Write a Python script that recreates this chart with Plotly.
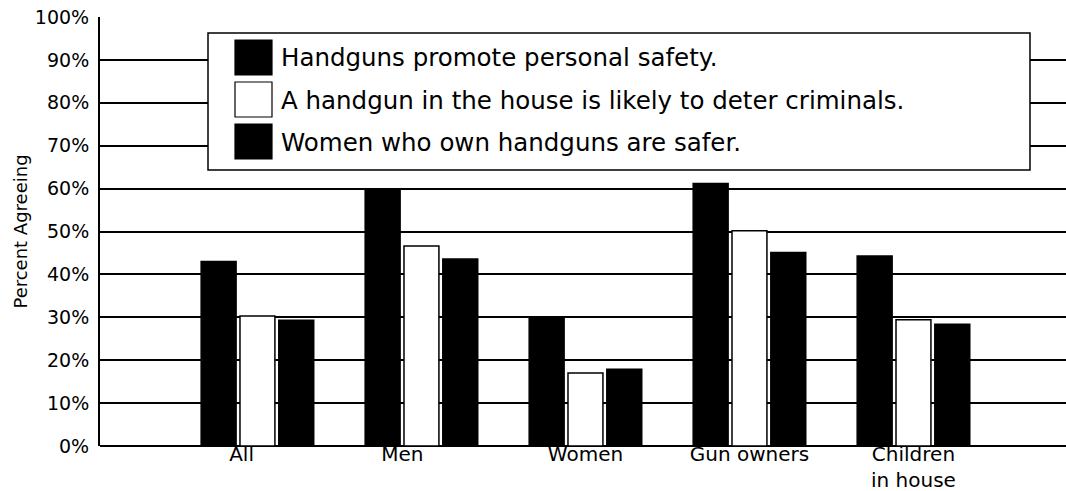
import plotly.graph_objects as go

categories = ['All', 'Men', 'Women', 'Gun owners', 'Children<br>in house']
series_names = [
    'Handguns promote personal safety.',
    'A handgun in the house is likely to deter criminals.',
    'Women who own handguns are safer.',
]
safety = [43, 59.6, 29.8, 61.2, 44.3]
deter = [30.3, 46.6, 17.0, 50.2, 29.4]
women_safer = [29.3, 43.6, 17.9, 45.1, 28.4]
y_ticks = [0, 10, 20, 30, 40, 50, 60, 70, 80, 90, 100]
# in the original the first two labels sit a little left of their bar groups
tick_labels = ['All' + '\u00a0' * 5, 'Men' + '\u00a0' * 6, 'Women', 'Gun owners', 'Children<br>in house']

FONT = '"DejaVu Sans", Verdana, sans-serif'
fills = ['black', 'white', 'black']

# plot area in pixels (page 1066x491)
L, R, T, B = 100, 1066, 17, 446


def px_x(px):
    return (px - L) / (R - L)


def px_y(py):
    return (B - py) / (B - T)


fig = go.Figure()

for name, vals, fill in zip(series_names, [safety, deter, women_safer], fills):
    fig.add_trace(go.Bar(
        x=categories, y=vals, name=name,
        marker=dict(color=fill, line=dict(color='black', width=1.5)),
    ))

# hand-drawn legend box with big swatches, like the original
fig.add_shape(type='rect', xref='paper', yref='paper',
              x0=px_x(208), x1=px_x(1030), y0=px_y(170), y1=px_y(33),
              fillcolor='white', line=dict(color='black', width=1.5), layer='above')
sw_top = [40, 82, 124]
for name, fill, top in zip(series_names, fills, sw_top):
    fig.add_shape(type='rect', xref='paper', yref='paper',
                  x0=px_x(235), x1=px_x(272), y0=px_y(top + 35), y1=px_y(top),
                  fillcolor=fill, line=dict(color='black', width=1.2), layer='above')
    fig.add_annotation(text=name, xref='paper', yref='paper',
                       x=px_x(279), y=px_y(top + 18), xanchor='left', yanchor='middle',
                       showarrow=False, font=dict(size=24.5, family=FONT, color='black'))

fig.update_layout(
    width=1066, height=491,
    margin=dict(l=L, r=1066 - R, t=T, b=491 - B),
    paper_bgcolor='white',
    plot_bgcolor='white',
    font=dict(family=FONT, color='black'),
    barmode='group',
    bargap=0.29,
    bargroupgap=0.1,
    showlegend=False,
    xaxis=dict(
        range=[-0.96, 4.93],
        tickvals=categories, ticktext=tick_labels,
        showgrid=False, showline=False, ticks='',
        tickfont=dict(size=20, family=FONT),
        automargin=False, ticklabelstandoff=-6,
    ),
    yaxis=dict(
        range=[0, 100],
        tickvals=y_ticks,
        ticktext=[f'{v}%' for v in y_ticks],
        showgrid=True, gridcolor='black', gridwidth=1.5,
        showline=True, linecolor='black', linewidth=2,
        zeroline=True, zerolinecolor='black', zerolinewidth=1.5,
        ticks='', ticklabelstandoff=5,
        tickfont=dict(size=19, family=FONT),
        automargin=False,
        title=dict(text='Percent Agreeing', font=dict(size=18, family=FONT), standoff=3),
    ),
)

# drop the browser's default page margin so the figure sits at the top-left corner
fig.write_html(
    'out.html',
    config={'displayModeBar': False},
    post_script="document.body.style.margin='0';document.body.style.overflow='hidden';",
)
